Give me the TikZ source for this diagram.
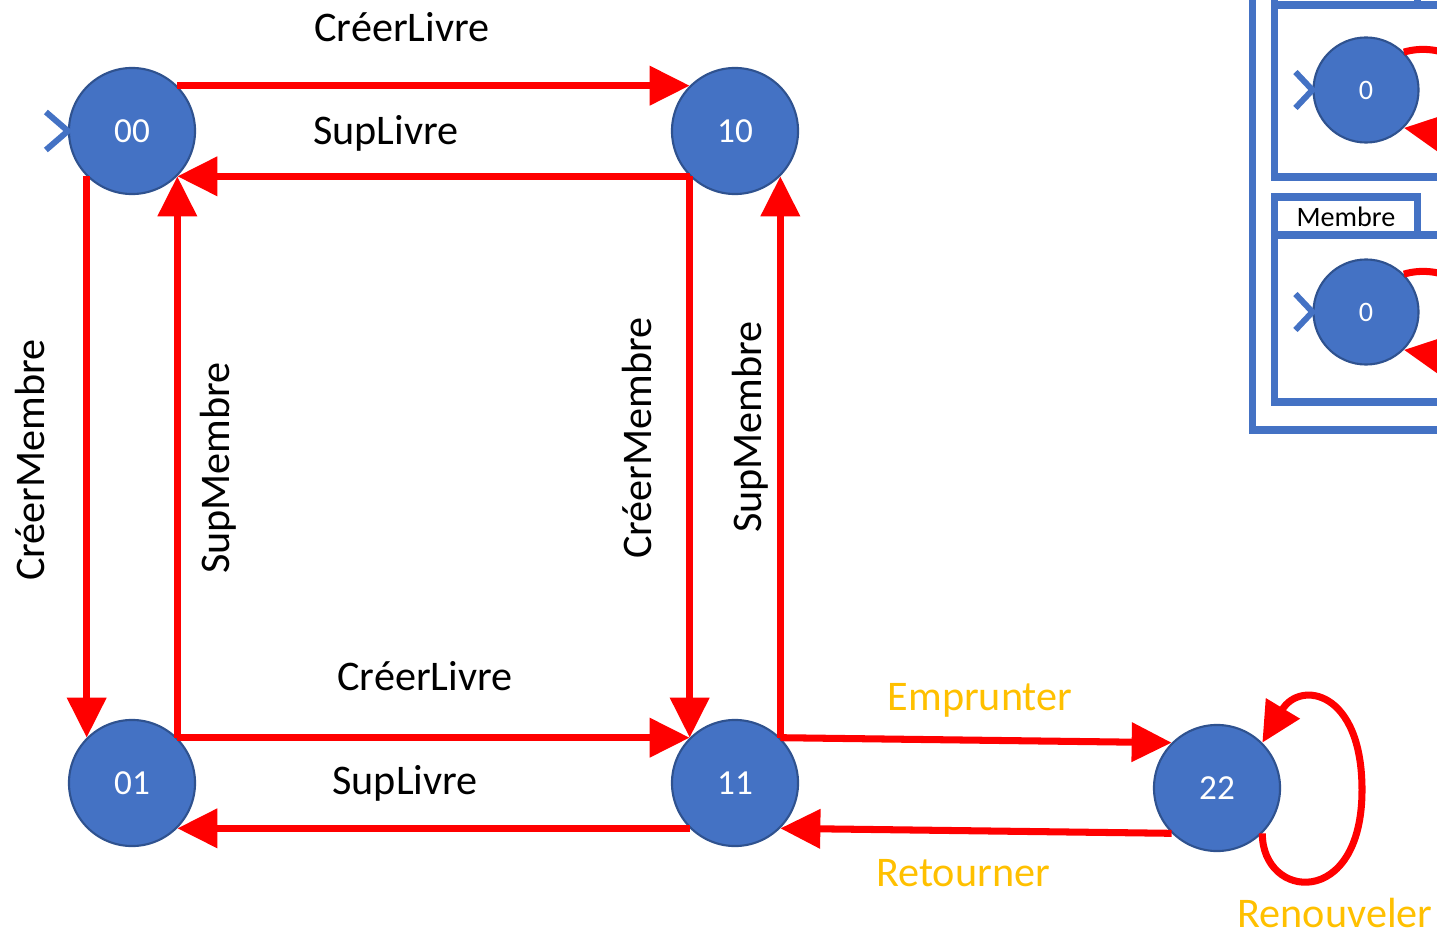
\documentclass[tikz,border=0pt]{standalone}
\usepackage{fontspec}
\setmainfont{Carlito}
\usetikzlibrary{arrows.meta}
\definecolor{etatbleu}{HTML}{4472C4}
\definecolor{bordbleu}{HTML}{2F528F}
\definecolor{orangeop}{HTML}{FFC000}
\tikzset{
  etat/.style={circle,fill=etatbleu,draw=bordbleu,line width=0.6pt,minimum size=1.26cm,inner sep=0pt,text=white,font=\fontsize{10}{12}\selectfont},
  petitetat/.style={etat,minimum size=1.05cm,font=\fontsize{8}{10}\selectfont},
  trans/.style={draw=red,line width=2pt,-{Triangle[length=0.4cm,width=0.38cm]}},
  lbl/.style={font=\fontsize{12}{14}\selectfont},
  lblop/.style={lbl,text=orangeop},
  cadre/.style={draw=etatbleu,line width=2pt},
  init/.style={draw=etatbleu,line width=1.7pt},
}
\begin{document}
\begin{tikzpicture}[x=0.01cm,y=-0.01cm]
\useasboundingbox (0,0) rectangle (1437,937);
% etats
\node[etat] (e00) at (132,131) {00};
\node[etat] (e10) at (735,131) {10};
\node[etat] (e01) at (132,783) {01};
\node[etat] (e11) at (735,783) {11};
\node[etat] (e22) at (1217,788) {22};
\draw[init] ([shift={(-22,-19)}]e00.west) -- (e00.west) -- ([shift={(-22,19)}]e00.west);
% transitions
\draw[trans] (e00.north east) -- (e10.north west);
\draw[trans] (e10.south west) -- (e00.south east);
\draw[trans] (e00.south west) -- (e01.north west);
\draw[trans] (e01.north east) -- (e00.south east);
\draw[trans] (e10.south west) -- (e11.north west);
\draw[trans] (e11.north east) -- (e10.south east);
\draw[trans] (e01.north east) -- (e11.north west);
\draw[trans] (e11.south west) -- (e01.south east);
\draw[trans] (e11.north east) -- (e22.north west);
\draw[trans] (e22.south west) -- (e11.south east);
\draw[trans] (e22.south east) .. controls (1262,900) and (1362,910) .. (1362,790)
  .. controls (1362,690) and (1300,680) .. (e22.north east);
% etiquettes
\node[lbl] (tCL1) at (402,27) {CréerLivre};
\node[lbl] (tSL1) at (386,133) {SupLivre};
\node[lbl] (tCL2) at (425,676) {CréerLivre};
\node[lbl] (tSL2) at (405,783) {SupLivre};
\node[lbl,rotate=90] (tCM1) at (30,460) {CréerMembre};
\node[lbl,rotate=90] (tSM1) at (218,468) {SupMembre};
\node[lbl,rotate=90] (tCM2) at (637,438) {CréerMembre};
\node[lbl,rotate=90] (tSM2) at (750,427) {SupMembre};
\node[lblop] (tEmp) at (980,700) {Emprunter};
\node[lblop] (tRet) at (963,873) {Retourner};
\node[lblop,inner sep=1pt] (tRen) at (1335,913) {Renouveler};
% cadre en haut a droite
\begin{scope}
\clip (0,0) rectangle (1437,937);
\draw[cadre] (1252,-20) -- (1252,430) -- (1480,430);
\draw[cadre] (1274,-40) rectangle (1417,5);
\draw[cadre] (1480,5) -- (1274,5) -- (1274,177) -- (1480,177);
\draw[cadre] (1274,235) |- (1417,197) -- (1417,235);
\node[font=\fontsize{8}{10}\selectfont] (tMem) at (1346,217) {Membre};
\draw[cadre] (1480,235) -- (1274,235) -- (1274,402) -- (1480,402);
\node[petitetat] (l0) at (1366,90) {0};
\node[petitetat] (m0) at (1366,312) {0};
\draw[init] ([shift={(-17,-18)}]l0.west) -- (l0.west) -- ([shift={(-17,18)}]l0.west);
\draw[init] ([shift={(-17,-18)}]m0.west) -- (m0.west) -- ([shift={(-17,18)}]m0.west);
\draw[trans] (l0.north east) .. controls (1480,30) and (1550,150) .. (l0.south east);
\draw[trans] (m0.north east) .. controls (1480,252) and (1550,372) .. (m0.south east);
\end{scope}
\end{tikzpicture}
\end{document}
